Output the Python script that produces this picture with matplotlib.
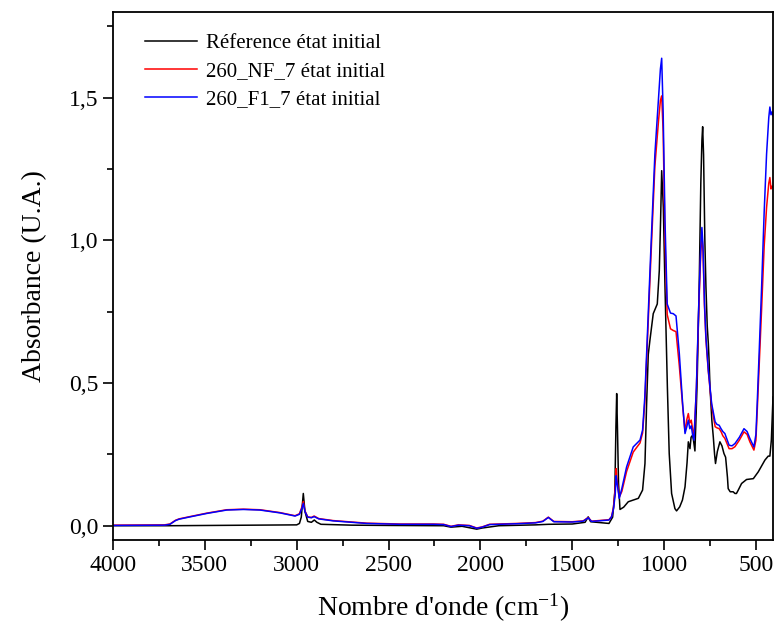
import matplotlib
matplotlib.use("Agg")
import matplotlib.pyplot as plt
from matplotlib.ticker import MultipleLocator, FuncFormatter

# ---------------- data ----------------
ref_wn = [4000, 3700, 3000, 2985, 2975, 2964, 2955, 2940, 2920, 2904, 2890, 2868,
          2700, 2500, 2200, 2160, 2100, 2020, 1990, 1900, 1700, 1630, 1500, 1430,
          1413, 1400, 1300, 1280, 1268, 1262, 1258, 1254, 1248, 1240, 1220, 1195,
          1140, 1117, 1104, 1095, 1086, 1077, 1059, 1037, 1026, 1019, 1013, 1004,
          995, 982, 972, 959, 941, 932, 915, 900, 886, 875, 868, 859, 853, 845,
          840, 832, 820, 809, 800, 794, 790, 785, 778, 772, 765, 759, 755, 750,
          740, 732, 725, 720, 710, 696, 685, 674, 665, 655, 651, 640, 624, 614,
          606, 596, 578, 551, 514, 487, 451, 433, 424, 416, 410, 407]
ref_abs = [0.000, 0.000, 0.003, 0.008, 0.030, 0.113, 0.050, 0.015, 0.012, 0.020, 0.012, 0.005,
           0.002, 0.001, 0.000, -0.005, -0.002, -0.012, -0.008, 0.000, 0.003, 0.005, 0.006, 0.012,
           0.031, 0.014, 0.008, 0.030, 0.120, 0.350, 0.463, 0.350, 0.150, 0.057, 0.065, 0.084,
           0.096, 0.125, 0.218, 0.428, 0.600, 0.650, 0.743, 0.777, 0.894, 1.069, 1.244, 1.115,
           0.836, 0.486, 0.253, 0.113, 0.060, 0.052, 0.066, 0.090, 0.136, 0.220, 0.294, 0.270, 0.310, 0.317,
           0.300, 0.262, 0.500, 0.836, 1.200, 1.350, 1.398, 1.300, 1.000, 0.836, 0.700, 0.638, 0.580, 0.486,
           0.370, 0.311, 0.250, 0.218, 0.260, 0.294, 0.280, 0.253, 0.240, 0.170, 0.130, 0.119, 0.119, 0.113,
           0.113, 0.125, 0.148, 0.162, 0.165, 0.189, 0.230, 0.244, 0.244, 0.300, 0.400, 0.451]

sam_wn = [4000, 3720, 3690, 3660, 3640, 3581, 3490, 3381, 3290, 3200, 3091, 3009,
          2985, 2972, 2964, 2955, 2940, 2920, 2905, 2880, 2801, 2619, 2437, 2256,
          2200, 2160, 2120, 2060, 2020, 1990, 1950, 1800, 1700, 1660, 1630, 1600,
          1500, 1440, 1413, 1395, 1300, 1286, 1275, 1266, 1261, 1256, 1244, 1230,
          1204, 1168, 1131, 1117, 1105, 1095, 1073, 1050, 1030, 1020, 1013, 1005,
          995, 983, 965, 950, 935, 917, 899, 886, 877, 868, 860, 852, 845, 837,
          824, 810, 800, 794, 788, 780, 772, 759, 741, 722, 712, 700, 690, 680,
          669, 646, 630, 614, 590, 565, 548, 533, 511, 500, 493, 481, 469, 455,
          442, 430, 424, 418, 412, 407]
nf7_abs = [0.002, 0.003, 0.006, 0.019, 0.024, 0.032, 0.044, 0.056, 0.058, 0.056, 0.046, 0.035,
           0.042, 0.065, 0.085, 0.052, 0.031, 0.029, 0.034, 0.025, 0.018, 0.009, 0.006, 0.006,
           0.005, -0.002, 0.003, 0.001, -0.008, -0.004, 0.005, 0.008, 0.011, 0.016, 0.030, 0.015,
           0.014, 0.017, 0.029, 0.016, 0.021, 0.032, 0.065, 0.130, 0.200, 0.160, 0.100, 0.120,
           0.190, 0.258, 0.290, 0.325, 0.430, 0.580, 0.920, 1.260, 1.420, 1.490, 1.506, 1.380,
           1.000, 0.740, 0.690, 0.684, 0.680, 0.560, 0.420, 0.330, 0.370, 0.393, 0.360, 0.370, 0.340, 0.310,
           0.480, 0.780, 0.960, 1.020, 0.960, 0.770, 0.650, 0.540, 0.420, 0.347, 0.343, 0.340, 0.330, 0.315,
           0.306, 0.270, 0.270, 0.277, 0.300, 0.329, 0.320, 0.294, 0.265, 0.300, 0.400, 0.580, 0.760, 0.980,
           1.115, 1.200, 1.220, 1.180, 1.190, 1.185]
f17_abs = [0.001, 0.002, 0.005, 0.018, 0.023, 0.031, 0.043, 0.055, 0.057, 0.055, 0.045, 0.034,
           0.040, 0.060, 0.078, 0.050, 0.030, 0.028, 0.032, 0.024, 0.017, 0.008, 0.005, 0.005,
           0.004, -0.003, 0.002, 0.000, -0.009, -0.005, 0.004, 0.007, 0.010, 0.015, 0.029, 0.014,
           0.013, 0.016, 0.028, 0.015, 0.020, 0.031, 0.060, 0.110, 0.175, 0.150, 0.096, 0.130,
           0.206, 0.276, 0.300, 0.335, 0.450, 0.603, 0.952, 1.302, 1.500, 1.600, 1.638, 1.450,
           1.069, 0.777, 0.745, 0.743, 0.735, 0.603, 0.428, 0.323, 0.345, 0.370, 0.340, 0.350, 0.320, 0.300,
           0.486, 0.800, 0.980, 1.045, 0.980, 0.780, 0.660, 0.544, 0.428, 0.364, 0.355, 0.352, 0.340, 0.330,
           0.323, 0.282, 0.280, 0.288, 0.310, 0.340, 0.330, 0.306, 0.276, 0.320, 0.428, 0.630, 0.836, 1.100,
           1.302, 1.430, 1.467, 1.440, 1.450, 1.436]

labels = ["Réference état initial", "260_NF_7 état initial", "260_F1_7 état initial"]
colors = ["black", "red", "blue"]

# ---------------- style ----------------
plt.rcParams['font.family'] = ['Liberation Serif', 'DejaVu Serif']
plt.rcParams['mathtext.default'] = 'regular'

fig = plt.figure(figsize=(7.76, 6.29), dpi=100)
ax = fig.add_axes([113/776, 89/629, 660/776, 528/629])

ax.plot(ref_wn, ref_abs, color=colors[0], lw=1.1, label=labels[0])
ax.plot(sam_wn, nf7_abs, color=colors[1], lw=1.1, label=labels[1])
ax.plot(sam_wn, f17_abs, color=colors[2], lw=1.1, label=labels[2])

ax.set_xlim(4000, 407)
ax.set_ylim(-0.05, 1.8)
ax.xaxis.set_major_locator(MultipleLocator(500))
ax.xaxis.set_minor_locator(MultipleLocator(250))
ax.yaxis.set_major_locator(MultipleLocator(0.5))
ax.yaxis.set_minor_locator(MultipleLocator(0.25))
ax.yaxis.set_major_formatter(FuncFormatter(lambda v, p: f"{v:.1f}".replace('.', ',')))
ax.tick_params(which='major', direction='out', length=7, width=1.2, labelsize=17)
ax.tick_params(which='minor', direction='out', length=4, width=1.2)
for s in ax.spines.values():
    s.set_linewidth(1.3)

ax.set_xlabel("Nombre d'onde (cm$^{-1}$)", fontsize=20, labelpad=12)
ax.set_ylabel("Absorbance (U.A.)", fontsize=20, labelpad=16)

leg = ax.legend(loc='upper left', bbox_to_anchor=(0.02, 0.995), frameon=False,
                fontsize=15, handlelength=2.5, handletextpad=0.45, labelspacing=0.4)

fig.savefig("out.png", dpi=100)
